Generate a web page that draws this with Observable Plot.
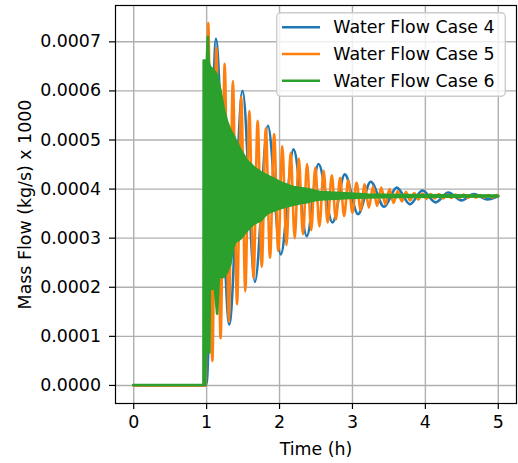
<!DOCTYPE html>
<html>
<head>
<meta charset="utf-8">
<script src="https://cdn.jsdelivr.net/npm/d3@7"></script>
<script src="https://cdn.jsdelivr.net/npm/@observablehq/plot@0.6"></script>
<style>
  html, body { margin: 0; padding: 0; background: white; }
  #wrap { position: relative; width: 518px; height: 463px; font-family: "DejaVu Sans", sans-serif; }
  #legend { position: absolute; left: 276px; top: 12px; }
</style>
</head>
<body>
<div id="wrap"></div>
<script>
// ---- data (time in h, mass flow) ----
const seriesNames = ["Water Flow Case 4", "Water Flow Case 5", "Water Flow Case 6"];
const seriesColors = ["#1f77b4", "#ff7f0e", "#2ca02c"];

// Case 4: successive extrema
const case4Time = [0, 0.985, 1.005, 1.127, 1.31, 1.493, 1.662, 1.840, 2.018, 2.192, 2.374, 2.534, 2.726, 2.895, 3.077, 3.251, 3.433, 3.607, 3.789, 3.959, 4.141, 4.315, 4.497, 4.666, 4.849, 5.0];
const case4Flow = [0, 0, 0.000012, 0.000706, 0.000124, 0.000600, 0.000211, 0.000529, 0.000267, 0.000481, 0.000304, 0.000451, 0.000332, 0.000430, 0.000349, 0.000415, 0.000364, 0.000403, 0.000369, 0.000397, 0.000373, 0.000393, 0.000377, 0.000390, 0.000379, 0.000386];

// Case 5: successive extrema
const case5Time = [0, 0.985, 1.022, 1.078, 1.134, 1.191, 1.248, 1.304, 1.360, 1.417, 1.474, 1.530, 1.586, 1.643, 1.700, 1.756, 1.812, 1.869, 1.926, 1.982, 2.038, 2.095, 2.152, 2.208, 2.264, 2.321, 2.378, 2.434, 2.490, 2.547, 2.604, 2.660, 2.716, 2.773, 2.830, 2.886, 2.942, 2.999, 3.056, 3.112, 3.168, 3.225, 3.282, 3.338, 3.395, 3.451, 3.508, 3.564, 3.621, 3.677, 3.734, 3.790, 3.847, 3.903, 3.960, 4.016, 4.073, 4.129, 4.186, 4.242, 4.299, 4.355, 4.412, 4.468, 4.525, 4.581, 4.638, 4.694, 4.751, 4.807, 4.864, 4.920, 4.977, 5.0];
const case5Flow = [0, 0, 0.000738, 0.000050, 0.000688, 0.000096, 0.000655, 0.000130, 0.000620, 0.000165, 0.000588, 0.000192, 0.000559, 0.000219, 0.000539, 0.000242, 0.000524, 0.000260, 0.000512, 0.000274, 0.000487, 0.000286, 0.000474, 0.000300, 0.000462, 0.000308, 0.000451, 0.000316, 0.000444, 0.000324, 0.000437, 0.000332, 0.000428, 0.000338, 0.000423, 0.000345, 0.000418, 0.000352, 0.000413, 0.000357, 0.000410, 0.000362, 0.000405, 0.000366, 0.000403, 0.000369, 0.000400, 0.000372, 0.000396, 0.000375, 0.000394, 0.000377, 0.000392, 0.000379, 0.000391, 0.000380, 0.000390, 0.000381, 0.000390, 0.000381, 0.000389, 0.000382, 0.000389, 0.000382, 0.000389, 0.000382, 0.000388, 0.000383, 0.000388, 0.000383, 0.000388, 0.000383, 0.000388, 0.000386];

// Case 6: very fast oscillation, read as its upper and lower envelope
const case6Time = [0, 0.963, 0.966, 0.986, 0.995, 1.010, 1.022, 1.034, 1.045, 1.050, 1.055, 1.104, 1.12, 1.151, 1.175, 1.196, 1.241, 1.288, 1.333, 1.37, 1.401, 1.470, 1.562, 1.652, 1.744, 1.836, 1.926, 2.018, 2.109, 2.200, 2.292, 2.384, 2.474, 2.566, 2.977, 3.21, 3.66, 5.0];
const case6High = [0, 0, 0.000661, 0.000661, 0.000661, 0.000661, 0.000709, 0.000660, 0.000652, 0.000650, 0.000648, 0.000641, 0.000638, 0.000631, 0.000615, 0.000600, 0.000563, 0.000536, 0.000519, 0.000510, 0.000500, 0.000480, 0.000457, 0.000444, 0.000434, 0.000427, 0.000420, 0.000413, 0.000408, 0.000403, 0.000401, 0.000399, 0.000396, 0.000393, 0.000390, 0.000388, 0.000387, 0.000386];
const case6Low  = [0, 0, 0, 0, 0.000066, 0.000066, 0.000066, 0.000066, 0.000066, 0.000190, 0.000196, 0.000196, 0.000196, 0.000145, 0.000220, 0.000220, 0.000220, 0.000230, 0.000247, 0.000280, 0.000291, 0.000298, 0.000315, 0.000328, 0.000335, 0.000349, 0.000355, 0.000360, 0.000364, 0.000367, 0.000370, 0.000372, 0.000376, 0.000378, 0.000381, 0.000382, 0.000383, 0.000384];

const xTicks = [0, 1, 2, 3, 4, 5];
const yTicks = [0, 0.0001, 0.0002, 0.0003, 0.0004, 0.0005, 0.0006, 0.0007];

// ---- build tables ----
const case4 = case4Time.map((t, i) => ({t, v: case4Flow[i]}));
const case5 = case5Time.map((t, i) => ({t, v: case5Flow[i]}));
const case6 = case6Time.map((t, i) => ({t, lo: case6Low[i], hi: case6High[i]}));

const lw = 2.6;
const gridStyle = {stroke: "#b0b0b0", strokeOpacity: 1, strokeWidth: 1.4};

const chart = Plot.plot({
  width: 518,
  height: 463,
  marginLeft: 115,
  marginRight: 2,
  marginTop: 5,
  marginBottom: 60,
  style: {fontFamily: "DejaVu Sans, sans-serif", fontSize: "17.4px", color: "black", background: "white"},
  x: {domain: [-0.25, 5.25], label: null},
  y: {domain: [-0.0000368, 0.000774], label: null},
  marks: [
    Plot.gridX(xTicks, gridStyle),
    Plot.gridY(yTicks, gridStyle),
    Plot.line(case4, {x: "t", y: "v", stroke: seriesColors[0], strokeWidth: lw, curve: "monotone-x"}),
    Plot.line(case5, {x: "t", y: "v", stroke: seriesColors[1], strokeWidth: lw, curve: "monotone-x"}),
    Plot.areaY(case6, {x: "t", y1: "lo", y2: "hi", fill: seriesColors[2], stroke: seriesColors[2], strokeWidth: lw, strokeLinejoin: "round"}),
    Plot.frame({stroke: "black", strokeWidth: 1.2}),
    Plot.axisX(xTicks, {tickSize: 6, tickPadding: 6, strokeWidth: 1.2, tickFormat: d => String(d), fontSize: 17.4,
      label: "Time (h)", labelAnchor: "center", labelArrow: "none", labelOffset: 51}),
    Plot.axisY(yTicks, {tickSize: 6, tickPadding: 8.5, strokeWidth: 1.2, tickFormat: d => d.toFixed(4), fontSize: 17.4,
      label: "Mass Flow (kg/s) x 1000", labelAnchor: "center", labelArrow: "none", labelOffset: 97})
  ]
});

const wrap = document.getElementById("wrap");
wrap.appendChild(chart);

// ---- legend (inside the axes, upper right) ----
const legendW = 230, legendH = 85;
const legend = d3.create("svg")
  .attr("id", "legend")
  .attr("width", legendW)
  .attr("height", legendH)
  .style("font-family", "DejaVu Sans, sans-serif")
  .style("font-size", "17.4px");
legend.append("rect")
  .attr("x", 0.7).attr("y", 0.7)
  .attr("width", legendW - 1.4).attr("height", legendH - 1.4)
  .attr("rx", 4)
  .attr("fill", "white").attr("fill-opacity", 0.8)
  .attr("stroke", "#cccccc").attr("stroke-width", 1.4);
seriesNames.forEach((name, i) => {
  const cy = 15.3 + i * 26.7;
  legend.append("line")
    .attr("x1", 6).attr("x2", 44)
    .attr("y1", cy).attr("y2", cy)
    .attr("stroke", seriesColors[i]).attr("stroke-width", lw);
  legend.append("text")
    .attr("x", 57.3).attr("y", cy)
    .attr("dy", "0.35em")
    .attr("fill", "black")
    .text(name);
});
wrap.appendChild(legend.node());
</script>
</body>
</html>
